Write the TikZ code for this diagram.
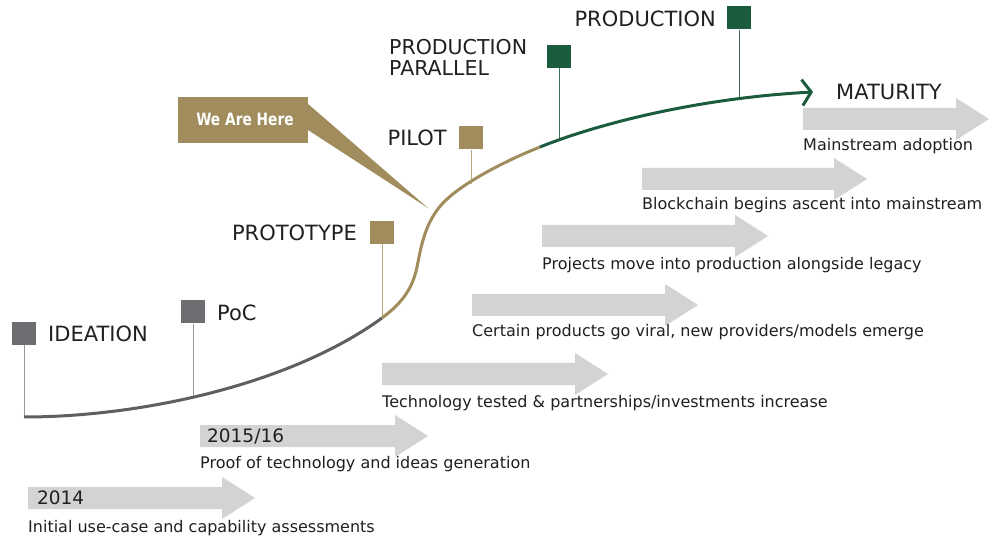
\documentclass[tikz,border=0pt]{standalone}
\usepackage{fontspec}
\setmainfont{DejaVu Sans}
\newfontfamily\condbold{DejaVu Sans Condensed}[BoldFont={* Bold}]
\usetikzlibrary{arrows.meta}
\definecolor{sqgray}{HTML}{6D6E71}
\definecolor{curvegray}{HTML}{5E5F61}
\definecolor{gold}{HTML}{A08C5C}
\definecolor{goldstem}{HTML}{B9AA82}
\definecolor{dgreen}{HTML}{1C5C3E}
\definecolor{arrowgray}{HTML}{D2D3D4}
\definecolor{txt}{HTML}{231F20}
\begin{document}
\begin{tikzpicture}[x=1pt,y=-1pt,
  head/.style={font=\fontsize{21}{23}\selectfont, text=txt, inner sep=0pt},
  lbl/.style={font=\fontsize{16}{18}\selectfont, text=txt, inner sep=0pt, anchor=west},
  yr/.style={font=\fontsize{18.5}{20}\selectfont, text=txt, inner sep=0pt, anchor=west},
  sq/.style={inner sep=0pt, minimum width=24pt, minimum height=23pt},
  stemline/.style={line width=1pt}]
\useasboundingbox (0,0) rectangle (989,540);
\fill[white] (0,0) rectangle (989,540);

% block arrows
\foreach \x/\y/\t in {28/487/255, 200/425/428, 382/363/608, 472/294/698, 542/225/768, 642/168/867, 803/108/989}{
  \fill[arrowgray] (\x,\y) -- (\t-33,\y) -- (\t-33,\y-10) -- (\t,\y+11) -- (\t-33,\y+32) -- (\t-33,\y+22) -- (\x,\y+22) -- cycle;
}
\node[yr] (y14) at (37,498) {2014};
\node[yr] (y15) at (207,436) {2015/16};
\node[lbl] (l1) at (28,528) {Initial use-case and capability assessments};
\node[lbl] (l2) at (200,464) {Proof of technology and ideas generation};
\node[lbl] (l3) at (382,403) {Technology tested \& partnerships/investments increase};
\node[lbl] (l4) at (472,332) {Certain products go viral, new providers/models emerge};
\node[lbl] (l5) at (542,265) {Projects move into production alongside legacy};
\node[lbl] (l6) at (642,205) {Blockchain begins ascent into mainstream};
\node[lbl] (l7) at (803,146) {Mainstream adoption};

% stems
\coordinate (cI) at (24,417);
\coordinate (cP) at (193,398);
\coordinate (cT) at (382,318);
\coordinate (cL) at (471,184);
\coordinate (cPP) at (559,139);
\coordinate (cPR) at (739,99);
\node[sq, fill=sqgray] (sI) at (24,333.5) {};
\node[sq, fill=sqgray] (sP) at (193,312) {};
\node[sq, fill=gold] (sT) at (382,232.5) {};
\node[sq, fill=gold] (sL) at (471,138) {};
\node[sq, fill=dgreen] (sPP) at (559,56.5) {};
\node[sq, fill=dgreen] (sPR) at (739,18) {};
\draw[stemline, draw=gray!80] (sI.south) -- (cI);
\draw[stemline, draw=gray!80] (sP.south) -- (cP);
\draw[stemline, draw=goldstem] (sT.south) -- (cT);
\draw[stemline, draw=goldstem] (sL.south) -- (cL);
\draw[stemline, draw=dgreen!85] (sPP.south) -- (cPP);
\draw[stemline, draw=dgreen!85] (sPR.south) -- (cPR);

\node[head, anchor=west] (tI) at (48,334) {IDEATION};
\node[head, anchor=west] (tP) at (217,313) {PoC};
\node[head, anchor=east] (tT) at (357,233) {PROTOTYPE};
\node[head, anchor=east] (tL) at (447,138) {PILOT};
\node[head, anchor=west, align=left, font=\fontsize{20.5}{21}\selectfont] (tPP) at (389,57) {PRODUCTION\\PARALLEL};
\node[head, anchor=east] (tPR) at (716,19) {PRODUCTION};
\node[head, anchor=west] (tM) at (836,92) {MATURITY};

% callout
\fill[gold] (300,97) -- (428,208) -- (308,130) -- cycle;
\fill[gold] (178,97) rectangle (308,143);
\node[font=\condbold\bfseries\fontsize{17}{19}\selectfont, text=white, inner sep=0pt] (wah) at (245,119) {\scalebox{0.9}[1]{We Are Here}};

% curve
\draw[curvegray, line width=3pt] (cI) .. controls (140,417) and (290,385) .. (cT);
\draw[gold, line width=3pt] (cT) .. controls (398,306) and (412,292) .. (417,267)
   .. controls (421,247) and (425,222) .. (443,203)
   .. controls (460,185) and (500,163) .. (540,147);
\coordinate (mtip) at (813,92);
\draw[dgreen, line width=3pt, -{Straight Barb[length=9pt,width=26pt]}] (540,147) .. controls (600,123) and (700,98) .. (mtip);
\end{tikzpicture}
\end{document}
